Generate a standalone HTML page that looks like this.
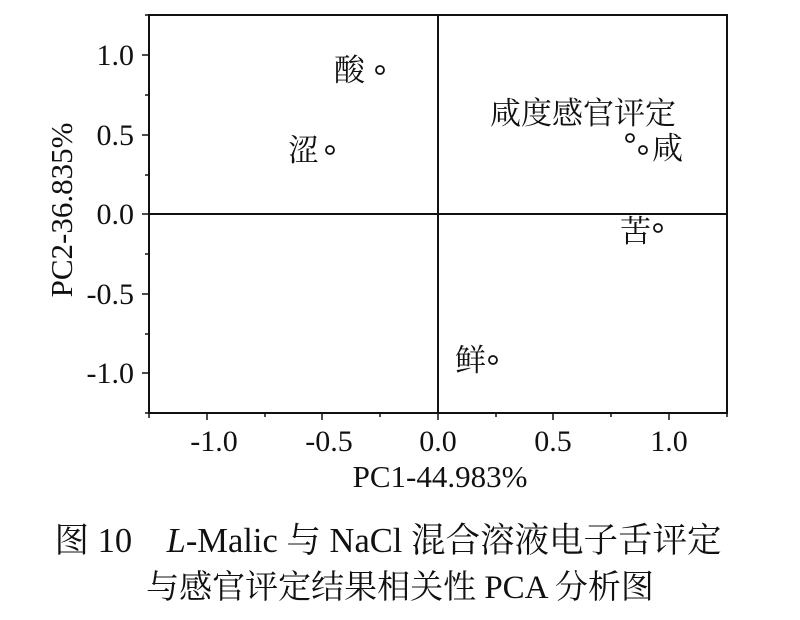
<!DOCTYPE html>
<html><head><meta charset="utf-8"><style>
body{margin:0;background:#fff;}
svg text{font-family:"Liberation Serif","Noto Serif CJK SC",serif;fill:#111;}
</style></head><body>
<svg width="800" height="615" xmlns="http://www.w3.org/2000/svg">
<g stroke="#111" stroke-width="2" fill="none">
<path d="M149,15 H727 V413 H149 Z"/>
<line x1="438" y1="15" x2="438" y2="413"/>
<line x1="149" y1="214" x2="727" y2="214"/>
</g>
<g stroke="#111" stroke-width="1.5">
<line x1="207" y1="413" x2="207" y2="420"/><line x1="322" y1="413" x2="322" y2="420"/><line x1="438" y1="413" x2="438" y2="420"/><line x1="553" y1="413" x2="553" y2="420"/><line x1="669" y1="413" x2="669" y2="420"/>
<line x1="149" y1="413" x2="149" y2="418"/><line x1="265" y1="413" x2="265" y2="417"/><line x1="380" y1="413" x2="380" y2="417"/><line x1="496" y1="413" x2="496" y2="417"/><line x1="611" y1="413" x2="611" y2="417"/><line x1="727" y1="413" x2="727" y2="417"/>
<line x1="142" y1="55" x2="149" y2="55"/><line x1="142" y1="135" x2="149" y2="135"/><line x1="142" y1="214" x2="149" y2="214"/><line x1="142" y1="294" x2="149" y2="294"/><line x1="142" y1="373" x2="149" y2="373"/>
<line x1="145" y1="15" x2="149" y2="15"/><line x1="145" y1="95" x2="149" y2="95"/><line x1="145" y1="175" x2="149" y2="175"/><line x1="145" y1="254" x2="149" y2="254"/><line x1="145" y1="334" x2="149" y2="334"/><line x1="145" y1="413" x2="149" y2="413"/>
</g>
<g font-size="30" text-anchor="middle">
<text x="214" y="451">-1.0</text><text x="329" y="451">-0.5</text><text x="438" y="451">0.0</text><text x="553" y="451">0.5</text><text x="669" y="451">1.0</text>
<text x="440" y="487" font-size="31">PC1-44.983%</text>
</g>
<g font-size="30" text-anchor="end">
<text x="134" y="65">1.0</text><text x="134" y="145">0.5</text><text x="134" y="224">0.0</text><text x="134" y="304">-0.5</text><text x="134" y="383">-1.0</text>
</g>
<text font-size="31" text-anchor="middle" transform="translate(72,210) rotate(-90)">PC2-36.835%</text>
<g stroke="#111" stroke-width="1.8" fill="none">
<circle cx="380" cy="70" r="4"/><circle cx="330" cy="150" r="4"/><circle cx="630" cy="138" r="4"/><circle cx="643" cy="150" r="4"/><circle cx="658" cy="228" r="4"/><circle cx="493" cy="360" r="4"/>
</g>
<g font-size="31">
<text x="334" y="81">酸</text>
<text x="288" y="161">涩</text>
<text x="490" y="124">咸度感官评定</text>
<text x="652" y="159">咸</text>
<text x="620" y="242">苦</text>
<text x="455" y="371">鲜</text>
</g>
<g font-size="34" text-anchor="middle">
<text x="388" y="552" font-size="34.5">图 10　<tspan font-style="italic">L</tspan>-Malic 与 NaCl 混合溶液电子舌评定</text>
<text x="400" y="598" font-size="33">与感官评定结果相关性 PCA 分析图</text>
</g>
</svg>
</body></html>
